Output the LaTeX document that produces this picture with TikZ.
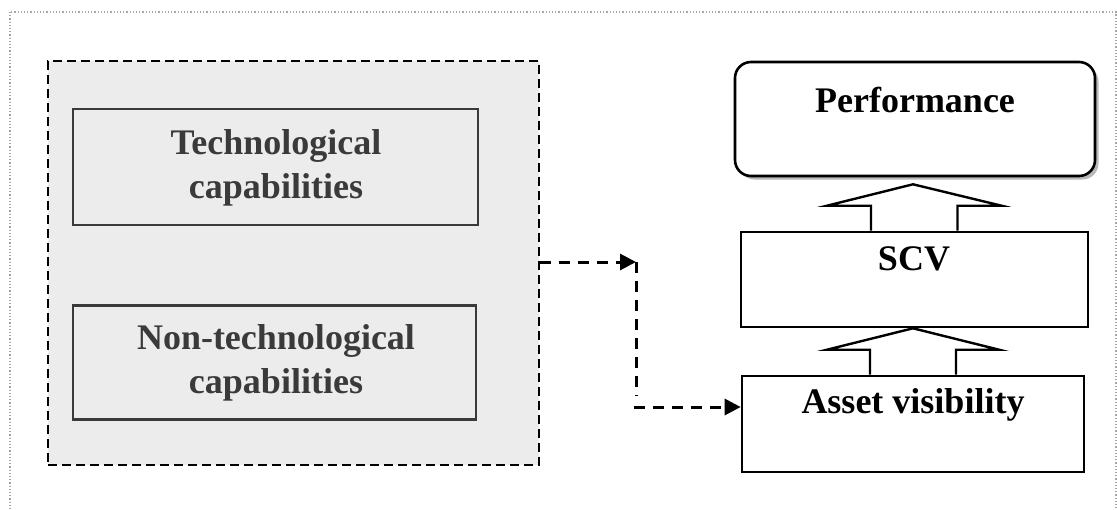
\documentclass[tikz,border=0pt]{standalone}
\usepackage{fontspec}
\setmainfont{Liberation Serif}
\usetikzlibrary{arrows.meta,calc}
\definecolor{panelgray}{HTML}{ECECEC}
\definecolor{inkgray}{HTML}{3A3A3A}
\begin{document}
\begin{tikzpicture}[x=1pt,y=-1pt,
  lbl/.style={font=\fontsize{36}{43.5}\selectfont\bfseries, align=center, inner sep=0pt, anchor=base},
  capbox/.style={draw=inkgray, line width=2.6pt, inner sep=0pt},
  resbox/.style={draw=black, line width=2.6pt, fill=white, inner sep=0pt},
  blockarrow/.style={draw=black, line width=2.4pt, fill=white, line join=miter},
  dasharrow/.style={draw=black, line width=3pt, dash pattern=on 11pt off 8pt,
    -{Triangle[length=16pt,width=16pt]}},
  dashline/.style={draw=black, line width=3pt, dash pattern=on 11pt off 8pt},
]
\useasboundingbox (0,0) rectangle (1117,509);
\fill[white] (0,0) rectangle (1117,509);
% outer dotted frame
\draw[gray!70, line width=1.2pt, dotted] (10,12) rectangle (1116,520);

% capability panel
\node[draw=black, fill=panelgray, line width=2.6pt, dash pattern=on 9pt off 5pt,
  minimum width=491pt, minimum height=404pt, inner sep=0pt] (panel) at (293.5,263) {};
\node[capbox, minimum width=405pt, minimum height=116pt] (tech) at (275.5,167) {};
\node[capbox, minimum width=403pt, minimum height=114pt] (nontech) at (274.5,362.5) {};
\node[lbl, text=inkgray] (techtxt) at (276,198) {Technological\\capabilities};
\node[lbl, text=inkgray] (nontechtxt) at (276,393) {Non-technological\\capabilities};

% outcome chain
\node[draw=none, fill=gray!55, rounded corners=16pt, minimum width=360pt, minimum height=114pt, inner sep=0pt] (perfshade) at (918.5,122.5) {};
\node[resbox, rounded corners=16pt, minimum width=360pt, minimum height=114pt] (perf) at (915,119) {};
\node[resbox, minimum width=347pt, minimum height=95pt] (scv) at (914.5,279.5) {};
\node[resbox, minimum width=342pt, minimum height=96pt] (asset) at (913,424) {};
\node[lbl] (perftxt) at (915,112) {Performance};
\node[lbl] (scvtxt) at (914,270) {SCV};
\node[lbl] (assettxt) at (913,413) {Asset visibility};

% block arrows between the outcome boxes
\draw[blockarrow] ($(scv.north)+(-43.5,0)$) -- ++(0,-25) -- ++(-44,0)
  -- ($(perf.south)+(-2,7)$) -- ($(scv.north)+(87,-25)$) -- ++(-44,0) -- ++(0,25);
\draw[blockarrow] ($(asset.north)+(-43,0)$) -- ++(0,-25) -- ++(-43,0)
  -- ($(scv.south)+(-1.5,0)$) -- ($(asset.north)+(86,-25)$) -- ++(-43,0) -- ++(0,25);

% dashed links from the panel
\coordinate (turnA) at (636,262);
\coordinate (turnB) at (636,396);
\coordinate (turnC) at (634,407);
\draw[dasharrow] (panel.east |- turnA) -- (turnA);
\draw[dashline] (turnA) -- (turnB);
\draw[dasharrow] (turnC) -- (turnC -| asset.west);
\end{tikzpicture}
\end{document}
